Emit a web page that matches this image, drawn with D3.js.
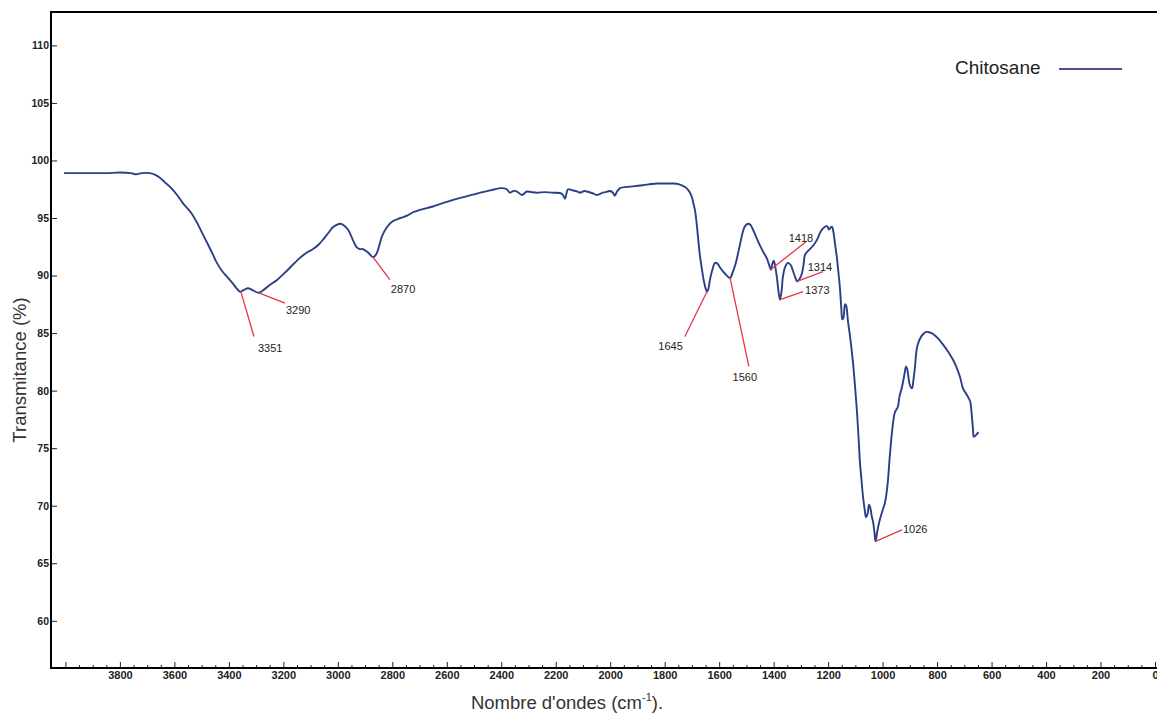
<!DOCTYPE html>
<html><head><meta charset="utf-8">
<script src="https://cdn.jsdelivr.net/npm/d3@7/dist/d3.min.js"></script>
<style>
html,body{margin:0;padding:0;background:#fff;}
svg{display:block;}
text{font-family:"Liberation Sans",Arial,sans-serif;}
</style></head>
<body>
<svg id="chart" width="1157" height="715"></svg>
<script>
// ---- data ----
const wavenumber = [4005,3950,3900,3850,3800,3760,3740,3720,3690,3670,3653,3635,3616,3590,3569,3540,3517,3500,3481,3460,3444,3425,3407,3385,3359,3345,3330,3310,3290,3270,3249,3224,3201,3175,3150,3120,3091,3070,3055,3035,3018,3000,2990,2975,2960,2945,2932,2920,2908,2889,2871,2858,2848,2838,2820,2800,2770,2746,2724,2700,2651,2600,2550,2500,2478,2440,2398,2380,2368,2355,2342,2324,2306,2290,2269,2240,2210,2177,2166,2160,2155,2137,2120,2111,2095,2085,2065,2049,2027,2010,2001,1990,1983,1975,1964,1940,1917,1880,1850,1828,1800,1770,1750,1733,1720,1707,1700,1695,1689,1683,1678,1671,1663,1656,1650,1645,1640,1634,1625,1615,1605,1597,1580,1560,1550,1540,1530,1520,1513,1505,1494,1485,1476,1463,1450,1437,1425,1415,1410,1405,1400,1395,1388,1384,1377,1371,1366,1357,1347,1337,1329,1320,1314,1305,1296,1290,1285,1275,1267,1255,1241,1230,1219,1204,1197,1190,1186,1180,1175,1168,1162,1157,1152,1148,1144,1138,1134,1127,1120,1109,1100,1094,1088,1083,1077,1072,1066,1061,1055,1050,1045,1040,1035,1030,1026,1020,1015,1010,1000,991,985,980,975,970,966,960,955,944,938,929,920,914,910,907,900,892,887,881,877,874,865,852,840,833,820,808,795,778,760,742,730,716,705,695,679,675,672,668,665,655,648];
const transmittance = [98.9,98.9,98.9,98.9,98.95,98.9,98.8,98.9,98.9,98.75,98.5,98.1,97.7,97.0,96.3,95.5,94.6,93.8,92.9,91.9,91.1,90.4,89.9,89.3,88.6,88.75,88.9,88.7,88.5,88.8,89.2,89.6,90.1,90.7,91.3,91.9,92.3,92.7,93.1,93.7,94.2,94.45,94.5,94.3,93.9,93.1,92.5,92.3,92.3,92.0,91.6,91.9,92.6,93.4,94.2,94.7,95.0,95.2,95.5,95.7,96.0,96.4,96.75,97.05,97.2,97.4,97.6,97.5,97.2,97.35,97.3,97.0,97.3,97.25,97.2,97.25,97.2,97.1,96.7,97.2,97.5,97.4,97.3,97.2,97.35,97.3,97.15,97.0,97.2,97.3,97.35,97.2,96.95,97.3,97.6,97.7,97.75,97.85,97.95,98.0,98.0,98.0,97.95,97.8,97.6,97.2,96.8,96.3,95.7,94.6,93.4,91.8,90.5,89.5,88.9,88.6,88.8,89.6,90.5,91.1,91.0,90.7,90.2,89.8,90.3,91.0,92.0,93.1,93.8,94.3,94.5,94.4,94.0,93.3,92.6,92.0,91.5,90.8,90.5,91.0,91.3,90.9,89.8,89.0,87.9,88.6,89.9,90.8,91.1,90.9,90.4,89.8,89.5,89.7,90.2,91.0,91.8,92.1,92.3,92.6,93.1,93.7,94.1,94.3,94.0,94.2,94.25,93.7,92.8,91.6,90.2,89.0,87.3,86.2,86.3,87.5,87.4,86.0,84.8,82.5,80.0,78.1,75.8,73.7,72.1,70.8,69.7,69.0,69.3,70.1,69.8,69.1,68.6,67.7,66.9,67.7,68.3,68.8,69.6,70.3,71.2,72.3,73.9,75.3,76.3,77.5,78.1,78.6,79.5,80.3,81.4,82.1,81.9,81.5,80.5,80.2,80.9,82.1,83.2,83.7,84.4,84.9,85.1,85.1,85.0,84.8,84.5,84.0,83.4,82.7,82.1,81.2,80.2,79.8,79.1,78.5,77.7,76.6,76.0,76.2,76.4];

const seriesName = "Chitosane";
const xTickLabels = [3800,3600,3400,3200,3000,2800,2600,2400,2200,2000,1800,1600,1400,1200,1000,800,600,400,200,0];
const yTickLabels = [60,65,70,75,80,85,90,95,100,105,110];

// peak annotations: label, point on curve, end of leader line (data coords)
const annLabels = ["3351","3290","2870","1645","1560","1418","1373","1314","1026"];
const annFromWn = [3356,3290,2871,1645,1560,1412,1377,1314,1026];
const annFromT  = [88.6,88.5,91.6,88.6,89.8,90.5,87.9,89.5,66.9];
const annToWn   = [3308,3194,2809,1726,1491,1278,1292,1219,929];
const annToT    = [84.7,87.6,89.65,84.7,82.1,93.0,88.6,90.35,67.9];

// ---- layout ----
const annLayout = [
  {dx:4,dy:12,anchor:"start"},
  {dx:1,dy:7,anchor:"start"},
  {dx:1,dy:10,anchor:"start"},
  {dx:-2,dy:10,anchor:"end"},
  {dx:-4,dy:11,anchor:"middle"},
  {dx:-6,dy:-3,anchor:"middle"},
  {dx:2,dy:-1,anchor:"start"},
  {dx:-3,dy:-4,anchor:"middle"},
  {dx:1,dy:0,anchor:"start"}
];

const svg = d3.select("#chart");
const mLeft = 51, mBottom = 668, mTop = 12, W = 1157;
const x = d3.scaleLinear().domain([4053, 0]).range([mLeft, 1155]);
const y = d3.scaleLinear().domain([55.9, 112.9]).range([mBottom, mTop]);

// axes ticks
const majorX = d3.range(4000, -1, -200);
const minorX = d3.range(4000, -1, -50).filter(v => v % 200 !== 0);

const gx = svg.append("g").attr("transform", `translate(0,${mBottom})`);
gx.call(d3.axisBottom(x).tickValues(minorX).tickSize(-3).tickSizeOuter(0).tickFormat(""));
gx.append("g").call(d3.axisBottom(x).tickValues(majorX).tickSize(-6).tickSizeOuter(0).tickPadding(3)
   .tickFormat(d => xTickLabels.includes(d) ? d : ""));
gx.selectAll(".domain").remove();
gx.selectAll("line").attr("stroke", "#222");
gx.selectAll("text").attr("font-size", 11).attr("font-weight", "bold").attr("fill", "#222");

const gy = svg.append("g").attr("transform", `translate(${mLeft},0)`);
gy.call(d3.axisLeft(y).tickValues(yTickLabels).tickSize(-6).tickSizeOuter(0).tickPadding(2));
gy.select(".domain").remove();
gy.selectAll("line").attr("stroke", "#222");
gy.selectAll("text").attr("font-size", 10.5).attr("font-weight", "bold").attr("fill", "#222");

// frame
svg.append("path")
  .attr("d", `M${W},${mTop}H${mLeft}V${mBottom}H${W}`)
  .attr("fill", "none").attr("stroke", "#000").attr("stroke-width", 2);

// curve
const pts = wavenumber.map((w, i) => [w, transmittance[i]]);
svg.append("path")
  .datum(pts)
  .attr("fill", "none")
  .attr("stroke", "#2b3f88")
  .attr("stroke-width", 1.9)
  .attr("stroke-linejoin", "round")
  .attr("d", d3.line().x(d => x(d[0])).y(d => y(d[1])).curve(d3.curveCatmullRom.alpha(0.5)));

// annotations
annLabels.forEach((lab, i) => {
  const x1 = x(annFromWn[i]), y1 = y(annFromT[i]);
  const x2 = x(annToWn[i]), y2 = y(annToT[i]);
  svg.append("line").attr("x1", x1).attr("y1", y1).attr("x2", x2).attr("y2", y2)
    .attr("stroke", "#e8334a").attr("stroke-width", 1.3);
  const L = annLayout[i];
  svg.append("text").attr("x", x2 + L.dx).attr("y", y2 + L.dy + 3.5)
    .attr("text-anchor", L.anchor).attr("font-size", 11).attr("fill", "#222").text(lab);
});

// legend
svg.append("text").attr("x", 955).attr("y", 74).attr("font-size", 19).attr("fill", "#222").text(seriesName);
svg.append("line").attr("x1", 1059).attr("x2", 1122).attr("y1", 69).attr("y2", 69)
  .attr("stroke", "#4b4f96").attr("stroke-width", 2);

// axis titles
svg.append("text")
  .attr("transform", "translate(26,370) rotate(-90)")
  .attr("text-anchor", "middle").attr("font-size", 18.5).attr("fill", "#333")
  .text("Transmitance (%)");

const xt = svg.append("text").attr("x", 567).attr("y", 709)
  .attr("text-anchor", "middle").attr("font-size", 18.5).attr("fill", "#333");
xt.append("tspan").text("Nombre d'ondes (cm");
xt.append("tspan").attr("font-size", 11).attr("dy", -8).text("-1");
xt.append("tspan").attr("dy", 8).text(").");
</script>
</body></html>
